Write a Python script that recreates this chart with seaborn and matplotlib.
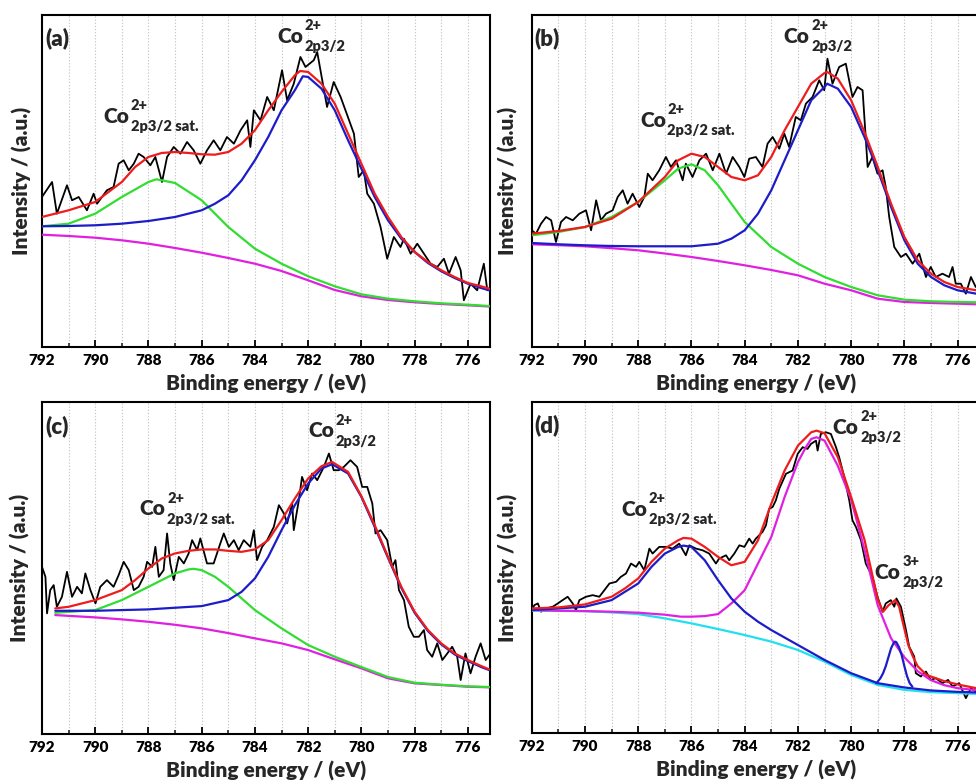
import matplotlib
matplotlib.use("Agg")
import matplotlib.pyplot as plt
import seaborn as sns
from matplotlib.ticker import MultipleLocator
from matplotlib.transforms import offset_copy

sns.set_style("white")
W = "heavy"
plt.rcParams["font.family"] = ["Lato", "DejaVu Sans"]
plt.rcParams["font.weight"] = W

RED, BLUE, GREEN = "#ee1c1c", "#1c1cc8", "#30dd30"
MAGENTA, CYAN = "#e020e0", "#20e0f0"

# ---------------- (a) ----------------
a_raw_e = [792.00, 791.62, 791.44, 791.06, 790.87, 790.62, 790.31, 790.06, 789.93, 789.56,
           789.31, 789.12, 788.93, 788.74, 788.55, 788.37, 788.18, 787.93, 787.74, 787.49,
           787.30, 787.05, 786.80, 786.55, 786.30, 786.05, 785.80, 785.55, 785.30, 785.05,
           784.79, 784.54, 784.29, 784.17, 784.04, 783.79, 783.54, 783.29, 782.98, 782.79,
           782.54, 782.29, 782.10, 781.79, 781.66, 781.47, 781.29, 781.04, 780.78, 780.53,
           780.28, 780.10, 779.91, 779.78, 779.53, 779.28, 779.03, 778.78, 778.53, 778.40,
           778.15, 777.90, 777.65, 777.40, 777.15, 776.90, 776.71, 776.46, 776.27, 776.15,
           775.90, 775.65, 775.40, 775.27, 775.15]
a_raw_i = [150.0, 165.0, 133.3, 161.7, 146.7, 150.0, 136.7, 153.3, 143.3, 156.7,
           160.0, 183.3, 186.7, 176.7, 183.3, 193.3, 190.0, 181.7, 190.0, 165.0,
           190.0, 200.0, 193.3, 205.0, 196.7, 183.3, 196.7, 206.7, 196.7, 210.0,
           203.3, 216.7, 226.7, 200.0, 236.7, 226.7, 250.0, 236.7, 276.7, 246.7,
           263.3, 290.0, 280.0, 286.7, 295.0, 266.7, 240.0, 265.0, 250.0, 231.7,
           213.3, 170.0, 176.7, 153.3, 143.3, 120.0, 88.3, 110.0, 100.0, 108.3,
           93.3, 103.3, 93.3, 83.3, 80.0, 88.3, 73.3, 90.0, 76.7, 46.7,
           63.3, 56.7, 83.3, 56.7, 60.0]
a_env_e = [792, 791, 790, 789, 788.5, 788, 787.5, 787, 786.5, 786, 785.5, 785, 784.5, 784,
           783.5, 783, 782.5, 782.3, 782, 781.5, 781, 780.5, 780, 779.5, 779, 778.5, 778,
           777.5, 777, 776.5, 776, 775.5, 775.2]
a_env_i = [130.0, 136.7, 145.0, 165.0, 180.0, 190.0, 194.0, 195.0, 194.0, 192.7, 192.3, 195.0,
           203.3, 216.7, 236.7, 255.0, 271.7, 276.0, 275.0, 263.3, 243.3, 213.3, 183.3, 153.3,
           130.0, 110.0, 95.0, 85.0, 76.7, 70.0, 64.0, 60.7, 58.3]
a_main_e = [792, 791, 790, 789, 788, 787, 786, 785.5, 785, 784.5, 784, 783.5, 783, 782.5, 782.2,
            782, 781.5, 781, 780.5, 780, 779.5, 779, 778.5, 778, 777.5, 777, 776.5, 776, 775.5,
            775.2]
a_main_i = [120.7, 121.0, 121.7, 123.3, 126.0, 130.0, 136.7, 143.3, 151.7, 166.7, 186.7, 210.0,
            236.7, 256.7, 270.7, 270.0, 258.3, 236.7, 206.7, 178.3, 150.0, 126.7, 108.3, 95.0,
            84.0, 75.7, 69.0, 63.3, 59.0, 56.7]
a_sat_e = [792, 791, 790, 789, 788, 787.7, 787, 786, 785, 784, 783, 782, 781, 780, 779, 778,
           777, 776, 775.2]
a_sat_i = [120.7, 123.3, 133.3, 150.0, 165.0, 167.7, 164.0, 146.7, 120.0, 98.3, 83.3, 70.7,
           60.7, 52.7, 48.3, 45.7, 43.7, 42.3, 41.0]
a_bg_e = [792, 791, 790, 789, 788, 787, 786, 785, 784, 783, 782, 781, 780, 779, 778, 777,
          776, 775.2]
a_bg_i = [112.3, 111.0, 109.3, 106.7, 103.3, 99.0, 94.3, 89.0, 83.3, 76.0, 66.7, 57.0, 50.7,
          47.0, 44.7, 43.0, 41.7, 40.5]

# ---------------- (b) ----------------
b_raw_e = [792.00, 791.84, 791.65, 791.46, 791.27, 791.09, 790.90, 790.71, 790.46, 790.21,
           789.96, 789.77, 789.58, 789.40, 789.21, 788.96, 788.77, 788.58, 788.40, 788.21,
           787.96, 787.77, 787.64, 787.46, 787.21, 786.96, 786.77, 786.58, 786.33, 786.21,
           785.96, 785.70, 785.45, 785.20, 784.95, 784.70, 784.45, 784.20, 784.01, 783.83,
           783.58, 783.33, 783.14, 782.95, 782.70, 782.51, 782.33, 782.08, 781.89, 781.70,
           781.45, 781.20, 781.01, 780.89, 780.70, 780.45, 780.20, 779.95, 779.76, 779.57,
           779.38, 779.20, 779.01, 778.82, 778.70, 778.57, 778.38, 778.13, 777.94, 777.69,
           777.44, 777.19, 777.01, 776.82, 776.57, 776.32, 776.19, 776.07, 775.88, 775.69,
           775.50, 775.32]
b_raw_i = [116.7, 113.3, 123.3, 130.0, 126.7, 105.0, 125.0, 130.0, 126.7, 133.3,
           136.7, 116.7, 146.7, 126.7, 133.3, 136.7, 150.0, 156.7, 143.3, 153.3,
           140.0, 150.0, 173.3, 166.7, 176.7, 190.0, 180.0, 186.7, 166.7, 183.3,
           170.0, 186.7, 193.3, 176.7, 193.3, 173.3, 190.0, 180.0, 170.0, 188.3,
           190.0, 180.0, 203.3, 210.0, 198.3, 213.3, 200.0, 230.0, 226.7, 243.3,
           250.0, 266.7, 256.7, 288.3, 263.3, 280.0, 283.3, 250.0, 260.0, 256.7,
           180.0, 190.0, 173.3, 176.7, 160.0, 130.0, 100.0, 90.0, 93.3, 83.3,
           93.3, 70.0, 80.0, 70.0, 73.3, 70.0, 80.0, 63.3, 63.3, 53.3,
           70.0, 60.0]
b_env_e = [792, 791, 790, 789, 788, 787, 786.5, 786, 785.5, 785, 784.5, 784, 783.5, 783,
           782.5, 782, 781.5, 781, 780.9, 780.5, 780, 779.5, 779, 778.5, 778, 777.5, 777,
           776.5, 776, 775.3]
b_env_i = [113.3, 116.0, 120.0, 128.3, 145.0, 170.0, 186.7, 193.3, 190.0, 180.0, 170.0, 166.7,
           171.7, 190.0, 216.7, 240.0, 263.3, 274.0, 275.0, 268.3, 246.7, 215.0, 180.0, 143.3,
           110.0, 86.7, 73.3, 65.0, 60.0, 56.7]
b_main_e = [792, 791, 790, 789, 788, 787, 786, 785, 784.5, 784, 783.5, 783, 782.5, 782, 781.5,
            781, 780.9, 780.5, 780, 779.5, 779, 778.5, 778, 777.5, 777, 776.5, 776, 775.3]
b_main_i = [104.0, 102.7, 101.7, 101.0, 100.7, 100.7, 100.7, 103.3, 108.3, 116.7, 133.3, 156.7,
            186.7, 216.7, 246.7, 260.0, 263.3, 258.3, 240.0, 210.0, 176.7, 140.0, 106.7, 83.3,
            70.0, 61.7, 56.7, 53.3]
b_sat_e = [792, 791, 790, 789, 788, 787, 786.5, 786, 785.5, 785, 784.5, 784, 783, 782, 781,
           780, 779, 778, 777, 776, 775.3]
b_sat_i = [111.7, 115.0, 120.0, 130.0, 145.0, 166.7, 178.3, 182.7, 176.7, 161.7, 143.3, 125.0,
           100.0, 83.3, 70.0, 60.0, 51.7, 47.3, 45.7, 45.0, 44.7]
b_bg_e = [792, 791, 790, 789, 788, 787, 786, 785, 784, 783, 782, 781, 780, 779, 778, 777,
          776, 775.3]
b_bg_i = [102.7, 101.8, 100.7, 98.8, 96.7, 93.5, 90.0, 86.0, 81.7, 77.0, 71.7, 63.3, 56.7,
          48.3, 45.0, 44.0, 43.3, 42.7]

# ---------------- (c) ----------------
c_raw_e = [792.00, 791.87, 791.81, 791.69, 791.56, 791.44, 791.25, 791.06, 790.87, 790.68,
           790.50, 790.37, 790.18, 789.99, 789.81, 789.56, 789.31, 789.12, 788.93, 788.74,
           788.55, 788.37, 788.18, 788.05, 787.86, 787.74, 787.61, 787.43, 787.30, 787.18,
           787.05, 786.86, 786.67, 786.49, 786.36, 786.17, 786.05, 785.80, 785.55, 785.30,
           785.17, 784.98, 784.79, 784.61, 784.42, 784.17, 784.04, 783.92, 783.73, 783.54,
           783.29, 783.10, 782.91, 782.79, 782.60, 782.54, 782.35, 782.23, 782.04, 781.85,
           781.66, 781.41, 781.22, 781.04, 780.85, 780.66, 780.41, 780.16, 779.97, 779.78,
           779.59, 779.47, 779.28, 779.03, 778.84, 778.72, 778.59, 778.40, 778.22, 778.03,
           777.84, 777.65, 777.53, 777.34, 777.15, 776.96, 776.77, 776.59, 776.40, 776.27,
           776.09, 775.90, 775.71, 775.52, 775.33, 775.15]
c_raw_i = [167.3, 157.3, 120.7, 144.0, 149.0, 127.3, 137.3, 162.3, 137.3, 147.3,
           140.7, 160.7, 144.0, 130.7, 147.3, 154.0, 147.3, 159.0, 172.3, 164.0,
           144.0, 147.3, 157.3, 172.3, 167.3, 187.3, 157.3, 164.0, 200.7, 170.7,
           154.0, 177.3, 170.7, 180.7, 194.0, 184.0, 195.7, 170.7, 170.7, 190.7,
           200.7, 187.3, 194.0, 184.0, 194.0, 187.3, 204.0, 174.0, 187.3, 194.0,
           207.3, 229.0, 220.7, 210.7, 230.7, 204.0, 234.0, 257.3, 244.0, 260.7,
           254.0, 267.3, 280.7, 264.0, 264.0, 267.3, 274.0, 267.3, 247.3, 247.3,
           230.7, 200.7, 204.0, 194.0, 167.3, 174.0, 144.0, 134.0, 107.3, 97.3,
           97.3, 104.0, 84.0, 77.3, 90.7, 74.0, 80.7, 87.3, 77.3, 54.0,
           80.7, 60.7, 77.3, 90.7, 74.0, 80.7]
c_env_e = [791.5, 791, 790, 789, 788.5, 788, 787.5, 787, 786.5, 786, 785.5, 785, 784.5, 784,
           783.5, 783, 782.5, 782, 781.5, 781.1, 780.5, 780, 779.5, 779, 778.5, 778, 777.5,
           777, 776.5, 776, 775.5, 775.2]
c_env_i = [125.7, 127.3, 134.0, 144.0, 154.0, 165.7, 175.7, 180.7, 183.3, 184.7, 184.7, 183.3,
           182.3, 184.7, 194.0, 214.0, 235.7, 255.7, 268.0, 272.3, 262.3, 238.0, 209.0, 177.3,
           147.3, 122.3, 104.0, 90.7, 80.7, 74.0, 68.0, 64.7]
c_main_e = [791.5, 790, 788, 786, 785, 784.5, 784, 783.5, 783, 782.5, 782, 781.5, 781.1, 780.5,
            780, 779.5, 779, 778.5, 778, 777.5, 777, 776.5, 776, 775.5, 775.2]
c_main_i = [123.3, 123.3, 124.7, 128.0, 134.0, 142.3, 155.7, 177.3, 204.0, 229.0, 250.7, 265.7,
            270.0, 260.7, 237.3, 207.3, 176.3, 146.3, 121.3, 103.0, 89.7, 79.7, 73.0, 67.0,
            64.0]
c_sat_e = [791.5, 790, 789, 788, 787, 786.5, 786.3, 786, 785.5, 785, 784.5, 784, 783, 782,
           781, 780, 779, 778, 777, 776, 775.2]
c_sat_i = [121.3, 124.0, 134.0, 147.3, 160.7, 164.7, 165.3, 164.0, 157.3, 147.3, 135.7, 124.0,
           105.7, 89.0, 77.3, 67.0, 57.0, 51.3, 49.3, 47.7, 47.0]
c_bg_e = [791.5, 790, 789, 788, 787, 786, 785, 784, 783, 782, 781, 780, 779, 778, 777, 776,
          775.2]
c_bg_i = [119.0, 116.7, 114.7, 112.3, 109.3, 105.7, 101.0, 95.7, 90.7, 84.0, 74.7, 65.7,
          55.7, 50.7, 49.0, 47.3, 46.7]

# ---------------- (d) ----------------
d_raw_e = [792.00, 791.90, 791.77, 791.65, 791.46, 791.21, 791.02, 790.84, 790.65, 790.46,
           790.34, 790.21, 789.96, 789.71, 789.46, 789.27, 789.08, 788.83, 788.65, 788.46,
           788.27, 788.08, 787.96, 787.77, 787.58, 787.46, 787.21, 786.96, 786.71, 786.46,
           786.21, 786.08, 785.83, 785.58, 785.33, 785.08, 784.96, 784.70, 784.58, 784.39,
           784.20, 784.01, 783.83, 783.70, 783.58, 783.33, 783.20, 783.08, 782.95, 782.83,
           782.70, 782.45, 782.20, 782.01, 781.82, 781.64, 781.51, 781.32, 781.26, 781.14,
           780.95, 780.76, 780.57, 780.45, 780.26, 780.07, 779.95, 779.82, 779.63, 779.45,
           779.20, 779.01, 778.82, 778.70, 778.51, 778.38, 778.30, 778.13, 777.94, 777.82,
           777.63, 777.57, 777.38, 777.19, 777.01, 776.82, 776.57, 776.36, 776.19, 775.94,
           775.69, 775.50, 775.32]
d_raw_i = [123.3, 128.3, 130.0, 121.7, 125.0, 126.7, 130.0, 133.3, 136.7, 130.0,
           123.3, 133.3, 136.7, 138.3, 136.7, 143.3, 150.0, 151.7, 156.7, 160.0,
           170.0, 166.7, 171.7, 163.3, 185.0, 180.0, 186.7, 186.7, 185.0, 190.0,
           178.3, 188.3, 185.0, 183.3, 180.0, 170.0, 175.0, 178.3, 173.3, 180.0,
           188.3, 186.7, 195.0, 190.0, 195.0, 201.7, 208.3, 225.0, 226.7, 233.3,
           245.0, 260.0, 263.3, 280.0, 286.7, 285.0, 290.0, 293.3, 283.3, 300.0,
           301.7, 300.0, 286.7, 276.7, 256.7, 233.3, 213.3, 206.7, 193.3, 170.0,
           156.7, 136.7, 121.7, 130.0, 133.3, 126.7, 135.0, 126.7, 103.3, 86.7,
           76.7, 60.0, 56.7, 61.7, 53.3, 55.0, 50.0, 53.3, 46.7, 50.0,
           35.0, 45.0, 41.7]
d_env_e = [792, 791, 790, 789, 788.5, 788, 787.5, 787, 786.5, 786.3, 786, 785.5, 785, 784.5,
           784, 783.5, 783, 782.5, 782, 781.5, 781.3, 781, 780.5, 780, 779.5, 779, 778.8,
           778.6, 778.35, 778.2, 778.05, 777.85, 777.68, 777.5, 777.17, 776.5, 775.92, 775.3]
d_env_i = [125.0, 126.0, 129.0, 136.7, 145.0, 155.0, 171.7, 185.0, 193.3, 195.7, 195.0, 186.7,
           176.7, 168.3, 171.7, 193.3, 230.0, 263.3, 288.3, 301.7, 303.3, 300.7, 276.7, 236.7,
           194.0, 134.0, 121.7, 128.0, 133.3, 127.0, 110.0, 88.0, 76.7, 67.0, 58.3, 52.0, 48.3,
           45.0]
d_main_e = [792, 791, 790, 789, 788, 787, 786.4, 786, 785.5, 785, 784.5, 784, 783.5, 783,
            782.5, 782, 781.7, 781.5, 781.3, 781, 780.5, 780, 779.5, 779, 778.5, 778, 777.5,
            777, 776.5, 776, 775.3]
d_main_i = [123.3, 122.7, 122.3, 121.7, 120.7, 118.7, 116.7, 116.7, 117.3, 119.3, 130.0, 143.3,
            170.0, 196.7, 236.7, 271.7, 286.7, 295.0, 296.7, 293.3, 268.0, 234.0, 184.0, 128.0,
            95.0, 76.0, 62.0, 53.0, 48.0, 45.0, 43.0]
d_sat_e = [792, 791, 790, 789, 788, 787.5, 787, 786.5, 786.3, 786, 785.5, 785, 784.5, 784,
           783.5, 783, 782, 781, 780, 779, 778, 777, 776, 775.3]
d_sat_i = [123.3, 125.0, 126.7, 133.3, 150.0, 166.7, 180.0, 186.7, 188.0, 186.7, 173.3, 153.3,
           135.0, 121.7, 111.7, 103.3, 88.3, 73.3, 60.0, 50.0, 45.7, 42.7, 41.3, 40.7]
d_co3_e = [779.05, 778.9, 778.8, 778.7, 778.6, 778.5, 778.4, 778.35, 778.3, 778.2, 778.1,
           778.0, 777.9, 777.8, 777.7]
d_co3_i = [50.0, 55.0, 60.0, 67.0, 76.0, 85.0, 90.5, 91.7, 91.0, 86.0, 78.0, 67.0, 57.0, 50.0,
           46.5]
d_bg_e = [792, 790, 789, 788, 787, 786, 785, 784, 783, 782, 781, 780, 779, 778, 777, 776,
          775.3]
d_bg_i = [122.7, 122.3, 121.0, 119.3, 115.0, 110.0, 104.3, 98.3, 91.7, 83.3, 71.7, 58.3,
          48.3, 43.3, 41.0, 40.0, 39.3]

SAT = "2p3/2 sat."
MAIN = "2p3/2"

PANELS = [
    dict(tag="(a)", raw=(a_raw_e, a_raw_i),
         fits=[((a_bg_e, a_bg_i), MAGENTA), ((a_sat_e, a_sat_i), GREEN),
               ((a_main_e, a_main_i), BLUE), ((a_env_e, a_env_i), RED)],
         labels=[(783.15, 304, "2+", MAIN), (789.7, 224, "2+", SAT)],
         rect=[0.0430, 0.5574, 0.4590, 0.4235], ylab_x=-0.044),
    dict(tag="(b)", raw=(b_raw_e, b_raw_i),
         fits=[((b_bg_e, b_bg_i), MAGENTA), ((b_sat_e, b_sat_i), GREEN),
               ((b_main_e, b_main_i), BLUE), ((b_env_e, b_env_i), RED)],
         labels=[(782.53, 304, "2+", MAIN), (787.93, 220, "2+", SAT)],
         rect=[0.5448, 0.5574, 0.4590, 0.4235], ylab_x=-0.053),
    dict(tag="(c)", raw=(c_raw_e, c_raw_i),
         fits=[((c_bg_e, c_bg_i), MAGENTA), ((c_sat_e, c_sat_i), GREEN),
               ((c_main_e, c_main_i), BLUE), ((c_env_e, c_env_i), RED)],
         labels=[(782.0, 297, "2+", MAIN), (788.33, 219, "2+", SAT)],
         rect=[0.0430, 0.0638, 0.4590, 0.4231], ylab_x=-0.048),
    dict(tag="(d)", raw=(d_raw_e, d_raw_i),
         fits=[((d_bg_e, d_bg_i), CYAN), ((d_main_e, d_main_i), MAGENTA),
               ((d_sat_e, d_sat_i), BLUE), ((d_co3_e, d_co3_i), BLUE),
               ((d_env_e, d_env_i), RED)],
         labels=[(780.69, 300, "2+", MAIN), (788.64, 218, "2+", SAT),
                 (779.11, 155, "3+", MAIN)],
         rect=[0.5448, 0.0650, 0.4590, 0.4222], ylab_x=-0.052),
]

fig = plt.figure(figsize=(9.76, 7.84), dpi=100)
renderer = fig.canvas.get_renderer()


def species_label(ax, x, y, sup, sub):
    """'Co' with a charge superscript stacked over an orbital subscript."""
    co = ax.text(x, y, "Co", ha="left", va="baseline", fontsize=15, fontweight=W)
    w = co.get_window_extent(renderer).width
    ax.text(x, y, sup, ha="left", va="baseline", fontsize=10.5, fontweight=W,
            transform=offset_copy(ax.transData, fig=fig, x=w + 1.5, y=12.5, units="dots"))
    ax.text(x, y, sub, ha="left", va="baseline", fontsize=10.5, fontweight=W,
            transform=offset_copy(ax.transData, fig=fig, x=w + 1.5, y=-8.5, units="dots"))


for p in PANELS:
    ax = fig.add_axes(p["rect"])
    ax.set_xlim(792, 775.17)
    ax.set_ylim(0, 332)
    ax.xaxis.set_major_locator(MultipleLocator(2))
    ax.xaxis.set_minor_locator(MultipleLocator(1))
    ax.set_yticks([])
    for x in range(776, 792):
        ax.axvline(x, color="#c8c8c8", lw=0.8, ls=(0, (1.2, 1.6)), zorder=0)

    e, i = p["raw"]
    sns.lineplot(x=e, y=i, ax=ax, color="black", lw=1.3, estimator=None, sort=False, zorder=3)
    for (fe, fi), col in p["fits"]:
        sns.lineplot(x=fe, y=fi, ax=ax, color=col, lw=1.6, estimator=None, sort=False, zorder=4)

    for sp in ax.spines.values():
        sp.set_linewidth(1.5)
        sp.set_color("black")
    ax.tick_params(axis="x", which="major", direction="in", length=5, width=1.3,
                   labelsize=11, pad=5, bottom=True, top=False, colors="black")
    ax.tick_params(axis="x", which="minor", direction="in", length=3, width=1.2,
                   bottom=True, top=False)
    plt.setp(ax.get_xticklabels(), fontweight=W)

    ax.text(0.007, 0.962, p["tag"], transform=ax.transAxes, ha="left", va="top",
            fontsize=16, fontweight=W)
    for (lx, ly, sup, sub) in p["labels"]:
        species_label(ax, lx, ly, sup, sub)

    ax.text(0.5, -0.082, "Binding energy / (eV)", transform=ax.transAxes, ha="center",
            va="top", fontsize=15, fontweight=W)
    ax.text(p["ylab_x"], 0.5, "Intensity / (a.u.)", transform=ax.transAxes, ha="center",
            va="center", rotation=90, fontsize=15, fontweight=W)
    ax.set_xlabel("")
    ax.set_ylabel("")

fig.savefig("out.png", dpi=100)
